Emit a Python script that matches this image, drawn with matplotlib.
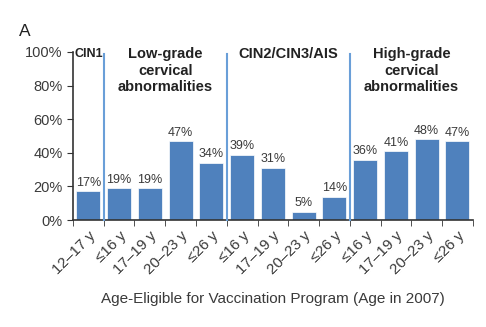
import matplotlib
matplotlib.use("Agg")
import matplotlib.pyplot as plt

plt.rcParams['font.family'] = ['Liberation Sans', 'DejaVu Sans']

labels = ["12\u201317 y", "\u226416 y", "17\u201319 y", "20\u201323 y", "\u226426 y",
          "\u226416 y", "17\u201319 y", "20\u201323 y", "\u226426 y",
          "\u226416 y", "17\u201319 y", "20\u201323 y", "\u226426 y"]
values = [17, 19, 19, 47, 34, 39, 31, 5, 14, 36, 41, 48, 47]
groups = ["CIN1", "Low-grade\ncervical\nabnormalities", "CIN2/CIN3/AIS",
          "High-grade\ncervical\nabnormalities"]
group_sizes = [1, 4, 4, 4]
yticks = [0, 20, 40, 60, 80, 100]

bar_color = "#4f81bd"
line_color = "#6a9fd8"
text_color = "#3a3a3a"

fig = plt.figure(figsize=(4.86, 3.27), dpi=100)
ax = fig.add_axes([0.150, 0.327, 0.823, 0.514])

x = list(range(len(values)))
ax.bar(x, values, width=0.78, color=bar_color, edgecolor="white", linewidth=0.5, zorder=2)
for xi, v in zip(x, values):
    ax.text(xi, v + 1.5, f"{v}%", ha="center", va="bottom", fontsize=9, color=text_color)

ax.set_xlim(-0.5, len(values) - 0.5)
ax.set_ylim(0, 100)
ax.set_yticks(yticks)
ax.set_yticklabels([f"{t}%" for t in yticks], fontsize=10.5, color=text_color)
ax.set_xticks(x)
ax.set_xticklabels(labels, rotation=45, ha="right", rotation_mode="anchor", fontsize=11, color=text_color)
ax.tick_params(axis="x", length=0, pad=6)
ax.set_xticks([i - 0.5 for i in range(len(values) + 1)], minor=True)
ax.tick_params(axis="x", which="minor", length=4, direction="out", color="#333333")
ax.tick_params(axis="y", length=4, direction="out", color="#333333")

for s in ["top", "right"]:
    ax.spines[s].set_visible(False)
for s in ["left", "bottom"]:
    ax.spines[s].set_color("#333333")
    ax.spines[s].set_linewidth(1.2)

# group separators and titles
start = 0
for gi, (g, n) in enumerate(zip(groups, group_sizes)):
    end = start + n
    if gi > 0:
        ax.plot([start - 0.5, start - 0.5], [0, 99], color=line_color, lw=1.5, zorder=3, clip_on=False)
    if gi == 0:
        ax.text(start - 0.45, 102.5, g, ha="left", va="top", fontsize=9, fontweight="bold", color="#222222")
    else:
        ax.text((start + end - 1) / 2, 103, g, ha="center", va="top", fontsize=10.5,
                fontweight="bold", color="#222222", linespacing=1.25)
    start = end

ax.set_xlabel("Age-Eligible for Vaccination Program (Age in 2007)", fontsize=11, color=text_color, labelpad=11)
fig.text(0.04, 0.905, "A", fontsize=12.5, color="#222222", ha="left", va="center")

fig.savefig("out.png", dpi=100)
